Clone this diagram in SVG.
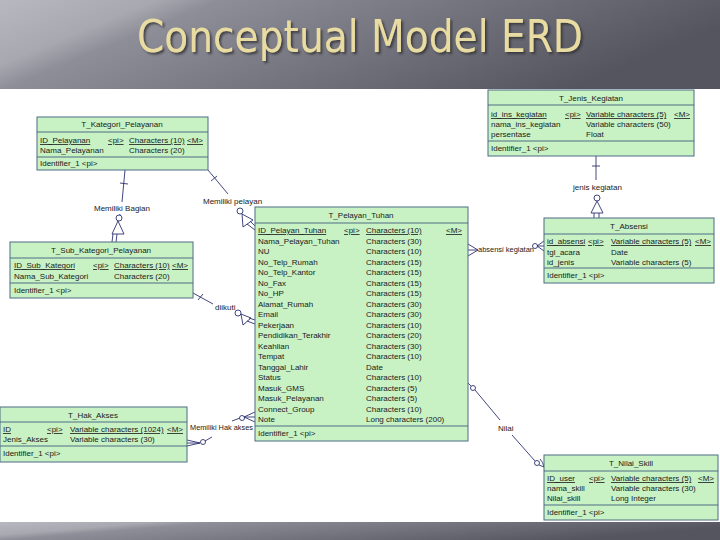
<svg xmlns="http://www.w3.org/2000/svg" width="720" height="540" viewBox="0 0 720 540">
<defs>
<linearGradient id="band" x1="0" y1="0" x2="1" y2="0.3">
<stop offset="0" stop-color="#b8b8c0"/>
<stop offset="0.2" stop-color="#a8a8b0"/>
<stop offset="0.28" stop-color="#8e8e98"/>
<stop offset="1" stop-color="#55555f"/>
</linearGradient>
<filter id="sh" x="-5%" y="-20%" width="110%" height="150%">
<feDropShadow dx="2" dy="2" stdDeviation="1" flood-color="#303036" flood-opacity="0.8"/>
</filter>
<style>
.e rect.b{fill:#c8f2c4;stroke:#4f6a86;stroke-width:1}
.e line{stroke:#4f6a86;stroke-width:1}
.e text{font-family:"Liberation Sans",Arial,sans-serif;font-size:8px;fill:#1a1a1a}
.e .t{text-anchor:middle}
.u{text-decoration:underline}
.c line,.c polyline,.c path{stroke:#2d3270;stroke-width:0.9;fill:none}
.c circle{stroke:#2d3270;stroke-width:0.9;fill:#ffffff}
.c polygon{stroke:#2d3270;stroke-width:0.9;fill:none}
.c text{font-family:"Liberation Sans",Arial,sans-serif;font-size:8px;fill:#1a1a1a}
</style>
</defs>
<rect x="0" y="0" width="720" height="540" fill="#ffffff"/>
<rect x="0" y="0" width="720" height="89" fill="url(#band)"/>
<rect x="0" y="522" width="720" height="18" fill="url(#band)"/>
<g id="title">
<text x="137" y="52" font-family="DejaVu Sans Condensed,DejaVu Sans,sans-serif" font-size="44" fill="#e9dca2" textLength="446" lengthAdjust="spacingAndGlyphs" filter="url(#sh)">Conceptual Model ERD</text>
</g>

<g class="c" id="connectors">
<!-- Memiliki Bagian -->
<line x1="125" y1="170" x2="122" y2="202"/>
<line x1="120" y1="183" x2="128" y2="184"/>
<text x="94" y="211">Memiliki Bagian</text>
<line x1="120" y1="214" x2="119" y2="218"/>
<circle cx="119" cy="218" r="3"/>
<polygon points="118,221 112,234 124,234"/>
<line x1="113" y1="234" x2="112" y2="242"/>
<line x1="117" y1="234" x2="116" y2="242"/>
<!-- Memiliki pelayan -->
<line x1="208" y1="170" x2="228" y2="194"/>
<line x1="211" y1="181" x2="217" y2="176"/>
<text x="203" y="204">Memiliki pelayan</text>
<circle cx="240" cy="211" r="3"/>
<polygon points="242,214 243,227 253,220"/>
<line x1="247" y1="224" x2="255" y2="230"/>
<line x1="250" y1="221" x2="255" y2="226"/>
<!-- diikuti -->
<line x1="193" y1="293" x2="213" y2="304"/>
<line x1="198" y1="300" x2="203" y2="294"/>
<text x="215" y="310">diikuti</text>
<circle cx="238" cy="313" r="3"/>
<polygon points="241,314 243,325 251,318"/>
<line x1="247" y1="321" x2="255" y2="324"/>
<line x1="249" y1="318" x2="255" y2="320"/>
<!-- Memiliki Hak akses -->
<polyline points="187,440 200,443"/>
<polyline points="187,446 200,443"/>
<line x1="187" y1="443" x2="200" y2="443"/>
<circle cx="203" cy="442" r="2.5"/>
<line x1="205" y1="441" x2="212" y2="437"/>
<text x="190" y="430" textLength="63" lengthAdjust="spacingAndGlyphs">Memiliki Hak akses</text>
<line x1="232" y1="421" x2="240" y2="418"/>
<circle cx="242" cy="418" r="2.5"/>
<polyline points="244,417 255,412"/>
<polyline points="244,417 255,417"/>
<polyline points="244,417 255,422"/>
<!-- absensi kegiatan -->
<polyline points="468,244 478,250 468,256"/>
<line x1="468" y1="250" x2="478" y2="250"/>
<text x="478" y="252" textLength="56" lengthAdjust="spacingAndGlyphs">absensi kegiatan</text>
<circle cx="535" cy="246" r="2.5"/>
<polyline points="537,246 544,241"/>
<polyline points="537,246 544,246"/>
<polyline points="537,246 544,251"/>
<!-- jenis kegiatan -->
<line x1="596" y1="156" x2="596" y2="180"/>
<line x1="592" y1="166" x2="600" y2="166"/>
<text x="573" y="190">jenis kegiatan</text>
<circle cx="597" cy="198" r="3"/>
<polygon points="597,201 591,213 603,213"/>
<line x1="594" y1="213" x2="594" y2="218"/>
<line x1="599" y1="213" x2="599" y2="218"/>
<!-- Nilai -->
<line x1="468" y1="383" x2="471" y2="386"/>
<circle cx="473" cy="388" r="2.5"/>
<line x1="475" y1="390" x2="500" y2="420"/>
<text x="498" y="431">Nilai</text>
<line x1="512" y1="435" x2="535" y2="461"/>
<circle cx="537" cy="463" r="2.5"/>
<path d="M539,465 L544,467 M540,459 Q543,462 544,467"/>
</g>

<g class="e" id="T_Kategori_Pelayanan">
<rect class="b" x="37" y="117" width="171" height="53"/>
<text class="t" x="122" y="127">T_Kategori_Pelayanan</text>
<line x1="37" y1="132" x2="208" y2="132"/>
<text class="u" x="40" y="143">ID_Pelayanan</text><text class="u" x="108" y="143">&lt;pi&gt;</text><text class="u" x="129" y="143">Characters (10)</text><text class="u" x="187" y="143">&lt;M&gt;</text>
<text x="40" y="153">Nama_Pelayanan</text><text x="129" y="153">Characters (20)</text>
<line x1="37" y1="157" x2="208" y2="157"/>
<text x="40" y="166">Identifier_1   &lt;pi&gt;</text>
</g>

<g class="e" id="T_Jenis_Kegiatan">
<rect class="b" x="488" y="90" width="206" height="66"/>
<text class="t" x="591" y="101">T_Jenis_Kegiatan</text>
<line x1="488" y1="105" x2="694" y2="105"/>
<text class="u" x="491" y="117">id_ins_kegiatan</text><text class="u" x="565" y="117">&lt;pi&gt;</text><text class="u" x="586" y="117">Variable characters (5)</text><text class="u" x="674" y="117">&lt;M&gt;</text>
<text x="491" y="127">nama_ins_kegiatan</text><text x="586" y="127">Variable characters (50)</text>
<text x="491" y="137">persentase</text><text x="586" y="137">Float</text>
<line x1="488" y1="141" x2="694" y2="141"/>
<text x="491" y="151">Identifier_1   &lt;pi&gt;</text>
</g>

<g class="e" id="T_Sub_Kategori_Pelayanan">
<rect class="b" x="10" y="242" width="183" height="56"/>
<text class="t" x="101" y="253">T_Sub_Kategori_Pelayanan</text>
<line x1="10" y1="258" x2="193" y2="258"/>
<text class="u" x="14" y="268">ID_Sub_Kategori</text><text class="u" x="93" y="268">&lt;pi&gt;</text><text class="u" x="114" y="268">Characters (10)</text><text class="u" x="172" y="268">&lt;M&gt;</text>
<text x="14" y="279">Nama_Sub_Kategori</text><text x="114" y="279">Characters (20)</text>
<line x1="10" y1="283" x2="193" y2="283"/>
<text x="14" y="293">Identifier_1   &lt;pi&gt;</text>
</g>

<g class="e" id="T_Pelayan_Tuhan">
<rect class="b" x="255" y="207" width="213" height="234"/>
<text class="t" x="361" y="218">T_Pelayan_Tuhan</text>
<line x1="255" y1="223" x2="468" y2="223"/>
<text class="u" x="258" y="233">ID_Pelayan_Tuhan</text><text class="u" x="344" y="233">&lt;pi&gt;</text><text class="u" x="366" y="233">Characters (10)</text><text class="u" x="446" y="233">&lt;M&gt;</text>
<text x="258" y="243.5">Nama_Pelayan_Tuhan</text><text x="366" y="243.5">Characters (30)</text>
<text x="258" y="254">NU</text><text x="366" y="254">Characters (10)</text>
<text x="258" y="264.5">No_Telp_Rumah</text><text x="366" y="264.5">Characters (15)</text>
<text x="258" y="275">No_Telp_Kantor</text><text x="366" y="275">Characters (15)</text>
<text x="258" y="285.5">No_Fax</text><text x="366" y="285.5">Characters (15)</text>
<text x="258" y="296">No_HP</text><text x="366" y="296">Characters (15)</text>
<text x="258" y="306.5">Alamat_Rumah</text><text x="366" y="306.5">Characters (30)</text>
<text x="258" y="317">Email</text><text x="366" y="317">Characters (30)</text>
<text x="258" y="327.5">Pekerjaan</text><text x="366" y="327.5">Characters (10)</text>
<text x="258" y="338">Pendidikan_Terakhir</text><text x="366" y="338">Characters (20)</text>
<text x="258" y="348.5">Keahlian</text><text x="366" y="348.5">Characters (30)</text>
<text x="258" y="359">Tempat</text><text x="366" y="359">Characters (10)</text>
<text x="258" y="369.5">Tanggal_Lahir</text><text x="366" y="369.5">Date</text>
<text x="258" y="380">Status</text><text x="366" y="380">Characters (10)</text>
<text x="258" y="390.5">Masuk_GMS</text><text x="366" y="390.5">Characters (5)</text>
<text x="258" y="401">Masuk_Pelayanan</text><text x="366" y="401">Characters (5)</text>
<text x="258" y="411.5">Connect_Group</text><text x="366" y="411.5">Characters (10)</text>
<text x="258" y="422">Note</text><text x="366" y="422">Long characters (200)</text>
<line x1="255" y1="426" x2="468" y2="426"/>
<text x="258" y="436">Identifier_1   &lt;pi&gt;</text>
</g>

<g class="e" id="T_Absensi">
<rect class="b" x="544" y="218" width="170" height="65"/>
<text class="t" x="629" y="229">T_Absensi</text>
<line x1="544" y1="234" x2="714" y2="234"/>
<text class="u" x="547" y="244">id_absensi</text><text class="u" x="588" y="244">&lt;pi&gt;</text><text class="u" x="611" y="244">Variable characters (5)</text><text class="u" x="695" y="244">&lt;M&gt;</text>
<text x="547" y="254.5">tgl_acara</text><text x="611" y="254.5">Date</text>
<text x="547" y="265">id_jenis</text><text x="611" y="265">Variable characters (5)</text>
<line x1="544" y1="268" x2="714" y2="268"/>
<text x="547" y="278">Identifier_1   &lt;pi&gt;</text>
</g>

<g class="e" id="T_Hak_Akses">
<rect class="b" x="0" y="407" width="187" height="55"/>
<text class="t" x="93" y="418">T_Hak_Akses</text>
<line x1="0" y1="422" x2="187" y2="422"/>
<text class="u" x="3" y="432">ID</text><text class="u" x="47" y="432">&lt;pi&gt;</text><text class="u" x="70" y="432">Variable characters (1024)</text><text class="u" x="167" y="432">&lt;M&gt;</text>
<text x="3" y="442">Jenis_Akses</text><text x="70" y="442">Variable characters (30)</text>
<line x1="0" y1="446" x2="187" y2="446"/>
<text x="3" y="456">Identifier_1   &lt;pi&gt;</text>
</g>

<g class="e" id="T_Nilai_Skill">
<rect class="b" x="544" y="455" width="174" height="65"/>
<text class="t" x="631" y="466">T_Nilai_Skill</text>
<line x1="544" y1="471" x2="718" y2="471"/>
<text class="u" x="547" y="481">ID_user</text><text class="u" x="589" y="481">&lt;pi&gt;</text><text class="u" x="611" y="481">Variable characters (5)</text><text class="u" x="698" y="481">&lt;M&gt;</text>
<text x="547" y="491">nama_skill</text><text x="611" y="491">Variable characters (30)</text>
<text x="547" y="501">Nilai_skill</text><text x="611" y="501">Long Integer</text>
<line x1="544" y1="505" x2="718" y2="505"/>
<text x="547" y="515">Identifier_1   &lt;pi&gt;</text>
</g>
</svg>
